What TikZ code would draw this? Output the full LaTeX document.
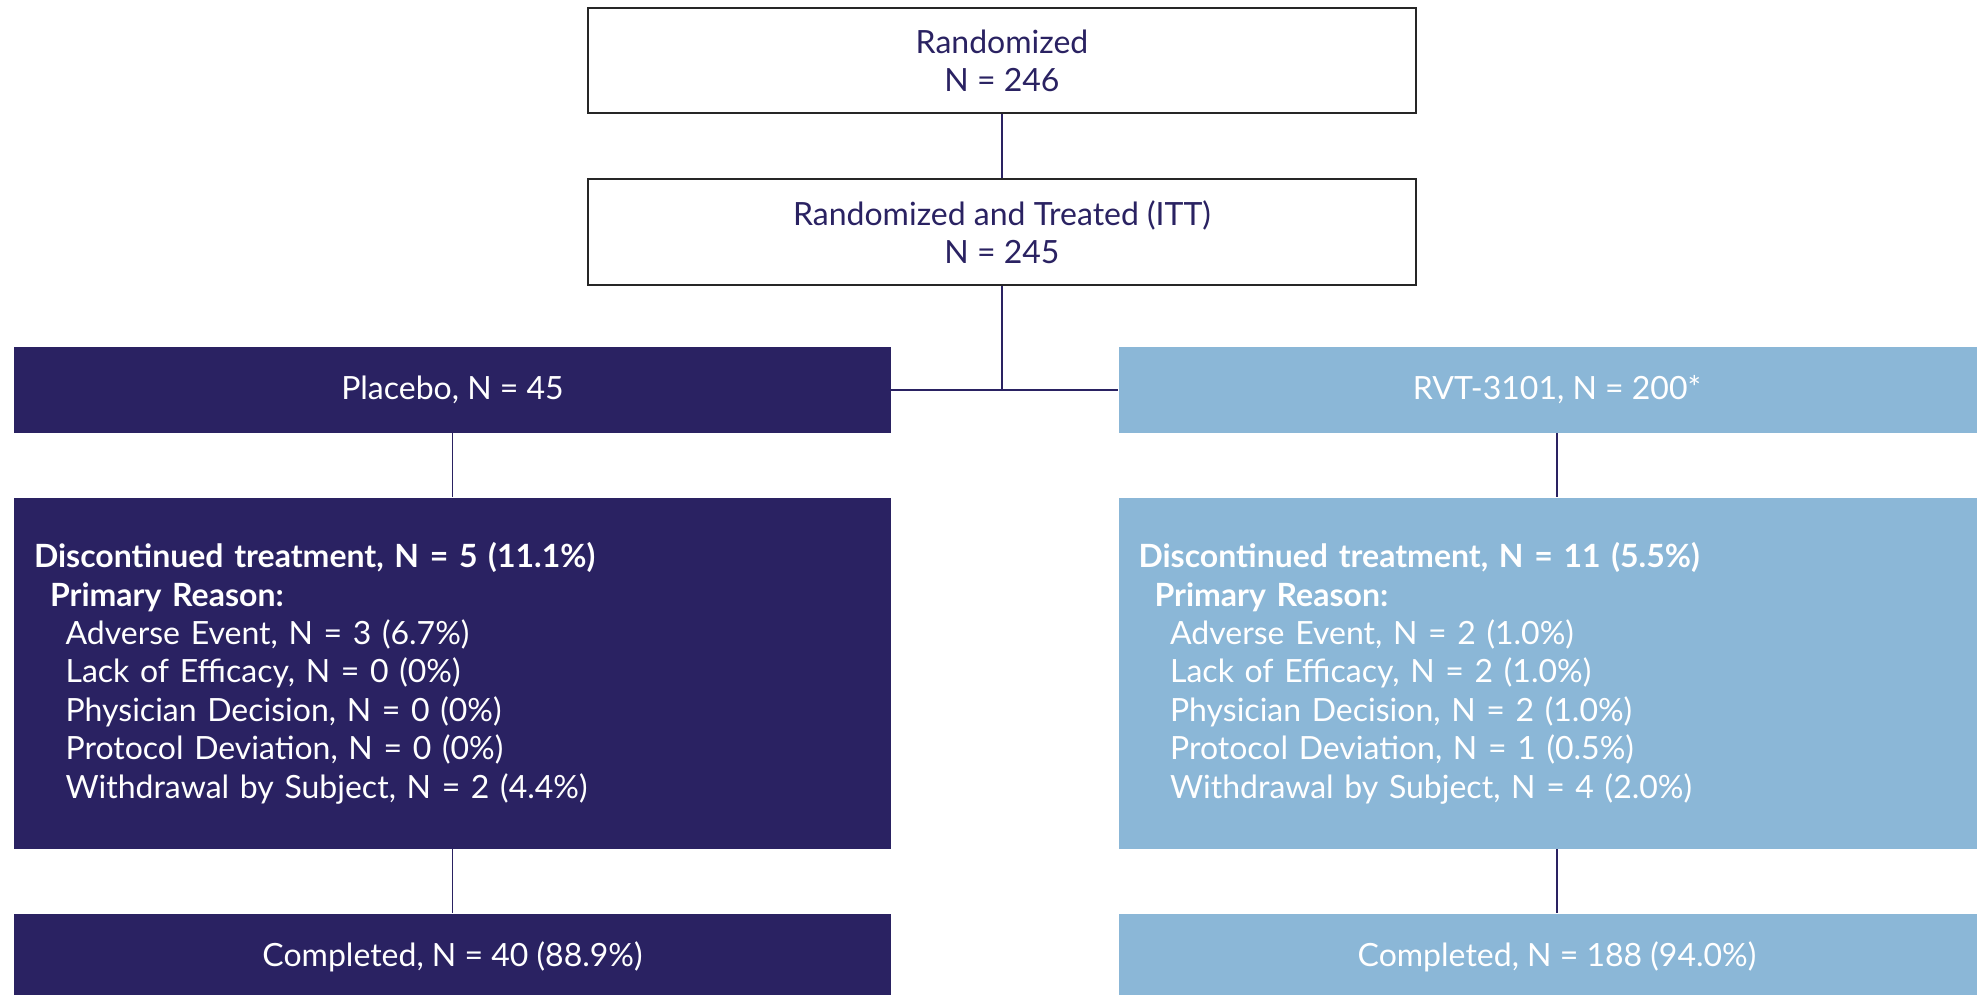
\documentclass[tikz,border=0pt]{standalone}
\usepackage{fontspec}
\setmainfont{Lato}
\usetikzlibrary{positioning}
\definecolor{navy}{HTML}{2A2262}
\definecolor{skyblue}{HTML}{8BB7D7}
\tikzstyle{line} = [draw=navy, line width=0.6pt]
\tikzstyle{whitebox} = [rectangle, draw=black!85, line width=1pt, fill=white, text=navy, minimum width=414pt, minimum height=52.5pt, align=center, node distance=32pt]
\tikzstyle{armbox} = [rectangle, fill=navy, text=white, minimum width=438.5pt, minimum height=43pt, align=center, node distance=32pt]
\tikzstyle{reasonbox} = [armbox, minimum height=175.5pt, text width=418.5pt, inner xsep=10pt, align=left]

\begin{document}
\begin{tikzpicture}[every node/.style={font=\fontsize{16}{19.2}\selectfont}]
	
	\path[use as bounding box] (0,0) rectangle (988.5pt,-497.5pt);
	\clip (0,0) rectangle (988.5pt,-497.5pt);
	
	\node [whitebox] (rand) at (501pt,-30.5pt) {Randomized\\N = 246};
	\node [whitebox, below=of rand] (itt) {Randomized and Treated (ITT)\\N = 245};
	
	\node [armbox] (placebo) at (226.25pt,-195pt) {Placebo, N = 45};
	\node [armbox, fill=skyblue] (rvt) at (778.5pt,-195pt) {RVT-3101, N = 200*};
	
	\node [reasonbox, below=of placebo] (discp) {\textbf{Discontinued treatment, N = 5 (11.1\%)}\\
		\hspace*{8pt}\textbf{Primary Reason:}\\
		\hspace*{15.8pt}Adverse Event, N = 3 (6.7\%)\\
		\hspace*{15.8pt}Lack of Efficacy, N = 0 (0\%)\\
		\hspace*{15.8pt}Physician Decision, N = 0 (0\%)\\
		\hspace*{15.8pt}Protocol Deviation, N = 0 (0\%)\\
		\hspace*{15.8pt}Withdrawal by Subject, N = 2 (4.4\%)};
	\node [reasonbox, fill=skyblue, below=of rvt] (discr) {\textbf{Discontinued treatment, N = 11 (5.5\%)}\\
		\hspace*{8pt}\textbf{Primary Reason:}\\
		\hspace*{15.8pt}Adverse Event, N = 2 (1.0\%)\\
		\hspace*{15.8pt}Lack of Efficacy, N = 2 (1.0\%)\\
		\hspace*{15.8pt}Physician Decision, N = 2 (1.0\%)\\
		\hspace*{15.8pt}Protocol Deviation, N = 1 (0.5\%)\\
		\hspace*{15.8pt}Withdrawal by Subject, N = 4 (2.0\%)};
	
	\node [armbox, below=of discp] (compp) {Completed, N = 40 (88.9\%)};
	\node [armbox, fill=skyblue, below=of discr] (compr) {Completed, N = 188 (94.0\%)};
	
	\path [line] (rand.south) -- (itt.north);
	\path [line] (itt.south) -- (itt.south |- placebo.east);
	\path [line] (placebo.east) -- (rvt.west);
	\path [line] (placebo.south) -- (discp.north);
	\path [line] (rvt.south) -- (discr.north);
	\path [line] (discp.south) -- (compp.north);
	\path [line] (discr.south) -- (compr.north);
	
\end{tikzpicture}
\end{document}
